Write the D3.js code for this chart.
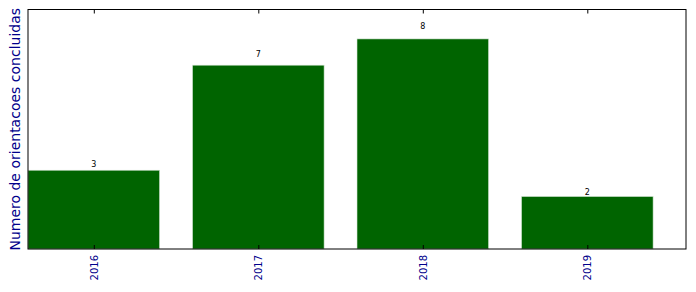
<!DOCTYPE html>
<html>
<head>
<meta charset="utf-8">
<script src="https://cdn.jsdelivr.net/npm/d3@7"></script>
<style>
  body { margin: 0; background: #fff; }
  svg { display: block; font-family: "DejaVu Sans", sans-serif; }
</style>
</head>
<body>
<svg id="chart" width="696" height="292"></svg>
<script>
// Orientacoes concluidas por ano
const years = ['2016', '2017', '2018', '2019'];
const counts = [3, 7, 8, 2];
const Y_MAX = 9.12;
const BAR_W = 0.8;

const WIDTH = 696, HEIGHT = 292;
const MARGIN = { top: 9.5, right: 10, bottom: 43, left: 28 };
const BAR_COLOR = '#006400';
const TEXT_BLUE = '#00008b';

const svg = d3.select('#chart');
const innerW = WIDTH - MARGIN.left - MARGIN.right;
const innerH = HEIGHT - MARGIN.top - MARGIN.bottom;

const g = svg.append('g')
    .attr('transform', `translate(${MARGIN.left},${MARGIN.top})`);

// matplotlib-style: bars of width 0.8 centred on integer positions
const x = d3.scaleLinear()
    .domain([-BAR_W / 2, years.length - BAR_W / 2])
    .range([0, innerW]);

const y = d3.scaleLinear()
    .domain([0, Y_MAX])
    .range([innerH, 0]);

const bw = x(BAR_W) - x(0);

// bars
g.selectAll('rect.bar')
    .data(years)
    .join('rect')
    .attr('class', 'bar')
    .attr('x', (d, i) => x(i - BAR_W / 2))
    .attr('y', (d, i) => y(counts[i]))
    .attr('width', bw)
    .attr('height', (d, i) => innerH - y(counts[i]))
    .attr('fill', BAR_COLOR)
    .attr('stroke', '#d8e8d8')
    .attr('stroke-width', 0.6);

// value labels, placed at 1.05 * height
g.selectAll('text.val')
    .data(years)
    .join('text')
    .attr('class', 'val')
    .attr('x', (d, i) => x(i))
    .attr('y', (d, i) => y(counts[i] * 1.05) + 1)
    .attr('text-anchor', 'middle')
    .attr('font-size', '8px')
    .attr('fill', '#000')
    .text((d, i) => counts[i]);

const tickVals = d3.range(years.length);

// bottom axis: inner ticks, rotated labels
const xAxis = d3.axisBottom(x)
    .tickValues(tickVals)
    .tickFormat(i => years[i])
    .tickSizeInner(-4).tickSizeOuter(0).tickPadding(6);
g.append('g')
    .attr('transform', `translate(0,${innerH})`)
    .call(xAxis)
    .call(a => a.select('.domain').remove())
    .call(a => a.selectAll('line').attr('stroke', '#000'))
    .call(a => a.selectAll('text')
        .attr('transform', 'rotate(-90)')
        .attr('text-anchor', 'end')
        .attr('x', -6)
        .attr('y', 0)
        .attr('dy', '0.35em')
        .attr('font-size', '10px')
        .attr('font-family', '"DejaVu Sans", sans-serif')
        .attr('fill', TEXT_BLUE));

// top ticks
g.append('g')
    .call(d3.axisTop(x).tickValues(tickVals).tickSizeInner(-4).tickSizeOuter(0).tickFormat(''))
    .call(a => a.select('.domain').remove())
    .call(a => a.selectAll('line').attr('stroke', '#000'));

// frame
g.append('rect')
    .attr('width', innerW)
    .attr('height', innerH)
    .attr('fill', 'none')
    .attr('stroke', '#000')
    .attr('stroke-width', 1);

// y label
svg.append('text')
    .attr('transform', `translate(15,${MARGIN.top + innerH / 2}) rotate(-90)`)
    .attr('text-anchor', 'middle')
    .attr('dominant-baseline', 'central')
    .attr('font-size', '14px')
    .attr('fill', TEXT_BLUE)
    .text('Numero de orientacoes concluidas');
</script>
</body>
</html>
